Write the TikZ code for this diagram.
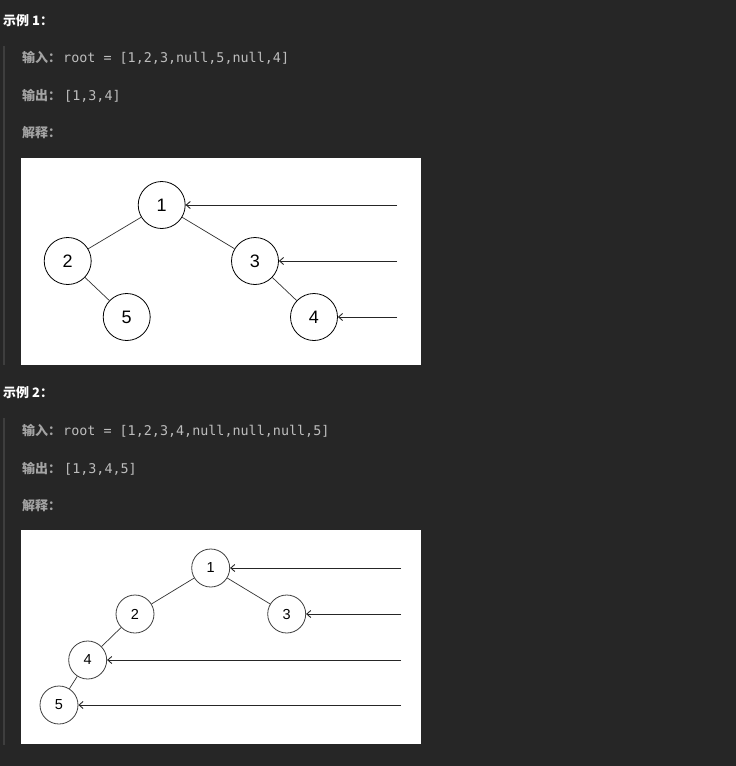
\documentclass[tikz,border=0pt]{standalone}
\usepackage{fontspec}
\setmainfont{Liberation Sans}
\setmonofont{DejaVu Sans Mono}
\newfontfamily\cjk{Noto Sans CJK SC}
\usepackage{tikz}
\usetikzlibrary{positioning,arrows.meta}

\definecolor{pagebg}{HTML}{262626}
\definecolor{quotebar}{HTML}{3E3E3E}
\definecolor{lblgray}{HTML}{A3A3A3}
\definecolor{codegray}{HTML}{BDBDBD}

\begin{document}
\begin{tikzpicture}[
  x=1pt, y=-1pt,
  heading/.style={anchor=base west, inner sep=0pt, text=white,
                  font=\cjk\bfseries\fontsize{13}{15}\selectfont},
  field/.style={anchor=base west, inner sep=0pt, text=lblgray,
                font=\cjk\bfseries\fontsize{13}{15}\selectfont},
  code/.style={anchor=base west, inner sep=0pt, text=codegray,
               font=\ttfamily\fontsize{13.4}{15}\selectfont},
  tnode/.style={circle, draw=black, line width=0.8pt, fill=white,
                minimum size=47pt, inner sep=0pt,
                font=\fontsize{18}{20}\selectfont},
  snode/.style={tnode, draw=black!75, minimum size=38pt,
                font=\fontsize{14.5}{16}\selectfont},
  tedge/.style={line width=0.7pt, draw=black!80},
  levelarr/.style={line width=0.9pt, draw=black!85,
                   -{Straight Barb[length=4pt,width=7pt]}},
]
  % page and quote bars
  \fill[pagebg] (0,0) rectangle (736,766);
  \fill[quotebar] (3,46) rectangle (5,365);
  \fill[quotebar] (3,418) rectangle (5,745);

  % example 1 text
  \node[heading] (h1)  at (3,25)   {示例 1：};
  \node[field]   (in1) at (22,62)  {输入：};
  \node[code]    (ic1) at (63,62)  {root = [1,2,3,null,5,null,4]};
  \node[field]   (ot1) at (22,100) {输出：};
  \node[code]    (oc1) at (64,100) {[1,3,4]};
  \node[field]   (ex1) at (22,137) {解释：};

  % example 1 picture
  \fill[white] (21,158) rectangle (421,365);
  \node[tnode] (a1) at (161.7,205) {1};
  \node[tnode] (a2) at (67.7,261)  {2};
  \node[tnode] (a3) at (255,261)   {3};
  \node[tnode] (a5) at (126.7,317) {5};
  \node[tnode] (a4) at (314,317)   {4};
  \draw[tedge] (a1) -- (a2);
  \draw[tedge] (a1) -- (a3);
  \draw[tedge] (a2) -- (a5);
  \draw[tedge] (a3) -- (a4);
  \coordinate (r1) at (397,205);
  \coordinate (r2) at (397,261);
  \coordinate (r3) at (397,317);
  \draw[levelarr] (r1) -- (a1);
  \draw[levelarr] (r2) -- (a3);
  \draw[levelarr] (r3) -- (a4);

  % example 2 text
  \node[heading] (h2)  at (3,397)  {示例 2：};
  \node[field]   (in2) at (22,435) {输入：};
  \node[code]    (ic2) at (63,435) {root = [1,2,3,4,null,null,null,5]};
  \node[field]   (ot2) at (22,473) {输出：};
  \node[code]    (oc2) at (64,473) {[1,3,4,5]};
  \node[field]   (ex2) at (22,510) {解释：};

  % example 2 picture
  \fill[white] (21,530) rectangle (421,744);
  \node[snode] (b1) at (210.7,568) {1};
  \node[snode] (b2) at (135,614)   {2};
  \node[snode] (b3) at (286.7,614) {3};
  \node[snode] (b4) at (87.7,660)  {4};
  \node[snode] (b5) at (59,705)    {5};
  \draw[tedge] (b1) -- (b2);
  \draw[tedge] (b1) -- (b3);
  \draw[tedge] (b2) -- (b4);
  \draw[tedge] (b4) -- (b5);
  \coordinate (s1) at (401,568);
  \coordinate (s2) at (401,614);
  \coordinate (s3) at (401,660);
  \coordinate (s4) at (401,705);
  \draw[levelarr] (s1) -- (b1);
  \draw[levelarr] (s2) -- (b3);
  \draw[levelarr] (s3) -- (b4);
  \draw[levelarr] (s4) -- (b5);
\end{tikzpicture}
\end{document}
